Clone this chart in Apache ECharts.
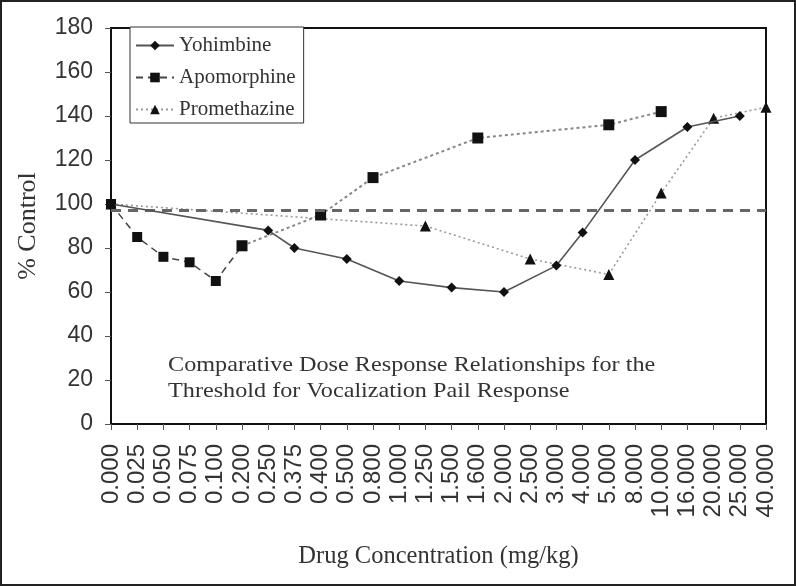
<!DOCTYPE html>
<html>
<head>
<meta charset="utf-8">
<script src="https://cdn.jsdelivr.net/npm/echarts@6/dist/echarts.min.js"></script>
<style>
html,body{margin:0;padding:0;background:#fff;}
#chart{width:796px;height:586px;}
</style>
</head>
<body>
<div id="chart"></div>
<script>
// Categories (drug concentration, mg/kg)
const categories = ['0.000','0.025','0.050','0.075','0.100','0.200','0.250','0.375','0.400','0.500','0.800','1.000','1.250','1.500','1.600','2.000','2.500','3.000','4.000','5.000','8.000','10.000','16.000','20.000','25.000','40.000'];

// % Control values (null = not measured at that concentration)
const yohimbine    = [100,null,null,null,null,null,88,80,null,75,null,65,null,62,null,60,null,72,87,null,120,null,135,null,140,null];
const apomorphineLow  = [100,85,76,73.5,65,81,null,null,null,null,null,null,null,null,null,null,null,null,null,null,null,null,null,null,null,null];
const apomorphineHigh = [null,null,null,null,null,81,null,null,95,null,112,null,null,null,130,null,null,null,null,136,null,142,null,null,null,null];
const promethazine = [100,null,null,null,null,null,null,null,null,null,null,null,90,null,null,null,75,null,null,68,null,105,null,139,null,144];
const controlLevel = 97;

const yTicks = {min:0, max:180, interval:20};

const serif = '"Liberation Serif","Times New Roman",serif';
const sans = '"Liberation Sans",Arial,sans-serif';

const chart = echarts.init(document.getElementById('chart'), null, {renderer:'canvas'});
chart.setOption({
  animation:false,
  backgroundColor:'#fff',
  grid:{left:111, top:28, width:655, height:396, show:true, borderColor:'#111', borderWidth:2, backgroundColor:'transparent'},
  legend:{
    data:['Yohimbine','Apomorphine','Promethazine'],
    orient:'vertical', left:130, top:27,
    padding:[8,8,3,5], itemGap:11,
    itemWidth:38, itemHeight:12,
    backgroundColor:'#fff', borderColor:'#333', borderWidth:1,
    textStyle:{fontFamily:serif, fontSize:21, color:'#333', padding:[0,0,0,0]}
  },
  xAxis:{
    type:'category', data:categories, boundaryGap:false,
    name:'Drug Concentration (mg/kg)', nameLocation:'middle', nameGap:120,
    nameTextStyle:{fontFamily:serif, fontSize:24.5, color:'#333'},
    axisLine:{lineStyle:{color:'#111', width:2}},
    axisTick:{show:true, inside:false, length:6, interval:0, lineStyle:{color:'#555', width:1}},
    axisLabel:{rotate:90, interval:0, margin:20, fontFamily:sans, fontSize:24, color:'#333'},
    splitLine:{show:false}
  },
  yAxis:{
    type:'value', min:yTicks.min, max:yTicks.max, interval:yTicks.interval,
    name:'% Control', nameLocation:'middle', nameGap:70,
    nameTextStyle:{fontFamily:serif, fontSize:26, color:'#333'},
    axisLine:{show:true, lineStyle:{color:'#111', width:2}},
    axisTick:{show:true, inside:false, length:6, lineStyle:{color:'#555', width:1}},
    axisLabel:{margin:18, fontFamily:sans, fontSize:23, color:'#333'},
    splitLine:{show:false}
  },
  graphic:[
    {type:'text', x:168, y:352, scaleX:1.1, silent:true,
     style:{x:0, y:0, text:'Comparative Dose Response Relationships for the\nThreshold for Vocalization Pail Response',
            font:'22px ' + serif, fill:'#333', lineHeight:26, align:'left', verticalAlign:'top'}},
    {type:'rect', silent:true, z:100, shape:{x:1,y:1,width:794,height:584},
     style:{fill:'none', stroke:'#222', lineWidth:2}}
  ],
  series:[
    {name:'Yohimbine', type:'line', data:yohimbine, connectNulls:true,
     symbol:'diamond', symbolSize:10, itemStyle:{color:'#111'},
     lineStyle:{color:'#555', width:1.6, type:'solid'}, z:5,
     markLine:{silent:true, symbol:'none', label:{show:false},
       lineStyle:{color:'#666', width:3, type:[10,7]},
       data:[{yAxis:controlLevel}]}},
    {name:'Apomorphine', type:'line', data:apomorphineLow, connectNulls:true,
     symbol:'rect', symbolSize:10, itemStyle:{color:'#111'},
     lineStyle:{color:'#444', width:1.5, type:[7,5]}, z:4},
    {name:'Apomorphine (high dose)', type:'line', data:apomorphineHigh, connectNulls:true,
     symbol:'rect', symbolSize:11, itemStyle:{color:'#111'},
     lineStyle:{color:'#888', width:2, type:[3,3]}, z:4},
    {name:'Promethazine', type:'line', data:promethazine, connectNulls:true,
     symbol:'triangle', symbolSize:11, itemStyle:{color:'#111'},
     lineStyle:{color:'#999', width:1.6, type:[2,3]}, z:3}
  ]
});
</script>
</body>
</html>
